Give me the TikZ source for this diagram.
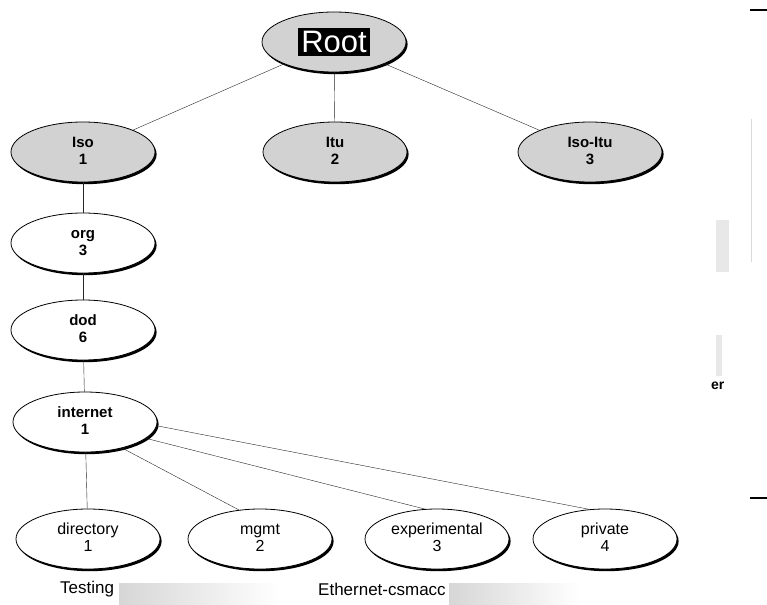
\documentclass[tikz,border=0pt]{standalone}
\usepackage{fontspec}
\setmainfont{Liberation Sans}
\usepackage{tikz}
\usetikzlibrary{shapes.geometric,shadows}
\newcommand{\oidlbl}[2]{\begin{tabular}{@{}c@{}}#1\strut\\[-2pt]#2\strut\end{tabular}}
\tikzset{
  oidnode/.style  = {ellipse,draw,thick,fill=white,minimum width=144pt,minimum height=60pt,
                     inner sep=0pt,font=\fontsize{16}{19}\selectfont,
                     drop shadow={shadow xshift=1.6pt,shadow yshift=-2.2pt,fill=black,opacity=1}},
  upnode/.style   = {oidnode,fill=gray!35,font=\bfseries\fontsize{15}{19}\selectfont},
  boldnode/.style = {oidnode,font=\bfseries\fontsize{15}{19}\selectfont},
  branch/.style   = {black!85,thin},
  fadebar/.style  = {left color=gray!32,right color=white,draw=none},
  pagetext/.style = {anchor=west,inner sep=0pt,font=\fontsize{17}{19}\selectfont}
}

\begin{document}
\begin{tikzpicture}[x=1pt,y=-1pt]
  \useasboundingbox (0,0) rectangle (767,604);
  % top of the tree
  \node[upnode] (root) at (334,42)  {};
  \node[fill=black,text=white,inner sep=3pt,font=\fontsize{31}{33}\selectfont] (rootlbl) at (root) {Root};
  \node[upnode] (iso)    at (83,152)  {\oidlbl{Iso}{1}};
  \node[upnode] (itu)    at (335,152) {\oidlbl{Itu}{2}};
  \node[upnode] (isoitu) at (590,152) {\oidlbl{Iso-Itu}{3}};
  % the path down to internet
  \node[boldnode] (org)      at (83,243) {\oidlbl{org}{3}};
  \node[boldnode] (dod)      at (83,330) {\oidlbl{dod}{6}};
  \node[boldnode] (internet) at (85,422) {\oidlbl{internet}{1}};
  % children of internet
  \node[oidnode] (directory)    at (88,539)  {\oidlbl{directory}{1}};
  \node[oidnode] (mgmt)         at (260,539) {\oidlbl{mgmt}{2}};
  \node[oidnode] (experimental) at (437,539) {\oidlbl{experimental}{3}};
  \node[oidnode] (private)      at (605,539) {\oidlbl{private}{4}};

  \draw[branch] (root) -- (iso);
  \draw[branch] (root) -- (itu);
  \draw[branch] (root) -- (isoitu);
  \draw[branch] (iso) -- (org);
  \draw[branch] (org) -- (dod);
  \draw[branch] (dod) -- (internet);
  \draw[branch] (internet) -- (directory);
  \draw[branch] (internet.-35) -- (mgmt.126);
  \draw[branch] (internet.-15) -- (experimental.112);
  \draw[branch] (internet.-3) -- (private.118);

  % bits of the page below and beside the figure
  \shade[fadebar] (119,583) rectangle (279,604);
  \shade[fadebar] (449,583) rectangle (580,604);
  \node[pagetext] (testing)  at (60,589)  {Testing};
  \node[pagetext] (ethernet) at (318,589) {Ethernet-csmacc};
  \node[anchor=west,inner sep=0pt,font=\bfseries\fontsize{14}{16}\selectfont] (er) at (711,386) {er};
  \draw[very thick] (750,10) -- (767,10);
  \draw[very thick] (750,498) -- (767,498);
  \draw[gray!30] (751,119) -- (751,262);
  \fill[gray!18] (716,220) rectangle (729,272);
  \fill[gray!18] (716,335) rectangle (722,376);
\end{tikzpicture}
\end{document}
